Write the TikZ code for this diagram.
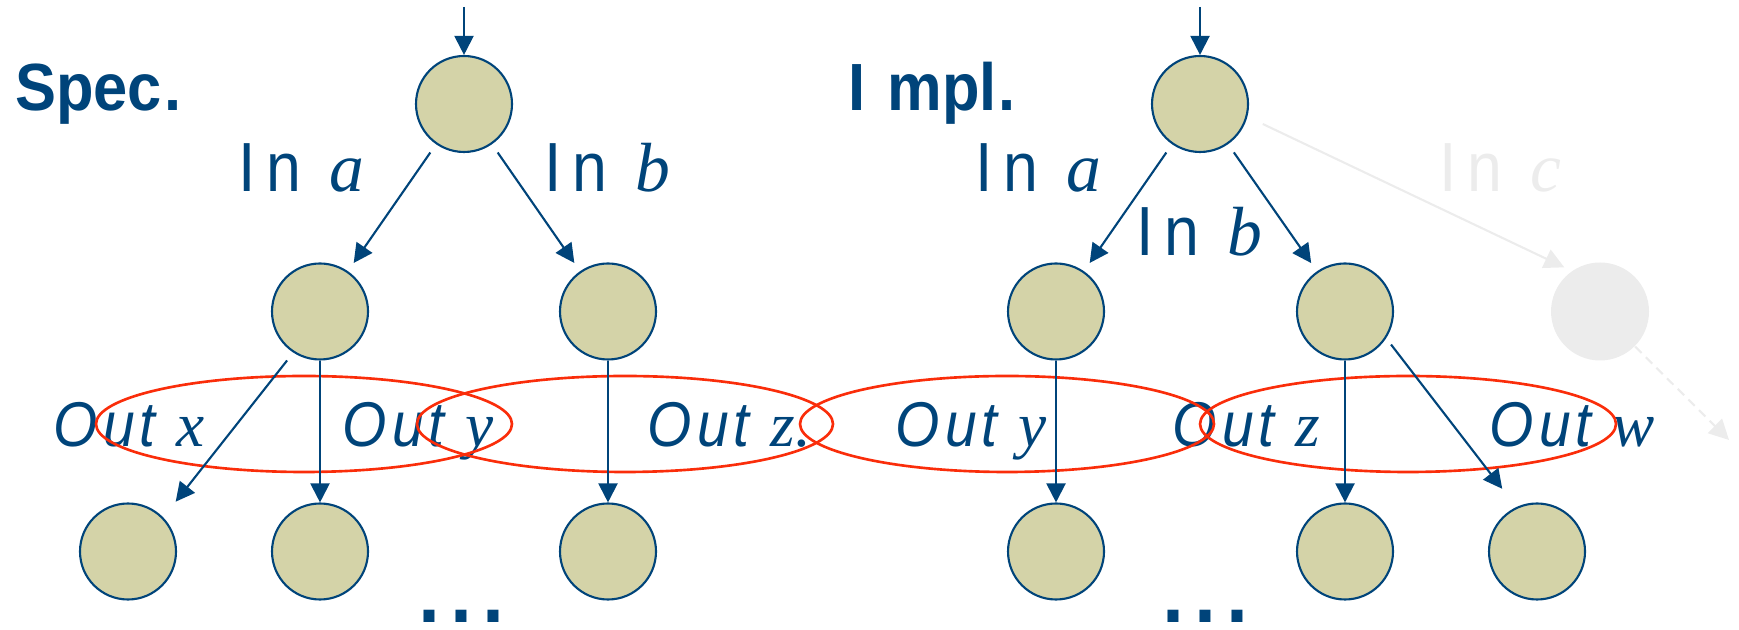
\documentclass[tikz,border=0pt]{standalone}
\usepackage{fontspec}
\setmainfont{Liberation Sans}
\newfontfamily\headsans{Liberation Sans}[FakeStretch=0.92]
\newfontfamily\lblsans{Liberation Sans}[LetterSpace=15, FakeStretch=0.9]
\newfontfamily\outsans{Liberation Sans}[LetterSpace=8, FakeStretch=0.9]
\newfontfamily\lbltimes{Liberation Serif}
\usepackage{tikz}
\usetikzlibrary{
	arrows.meta
}
\usepackage{xcolor}
\definecolor{nodeblue}{RGB}{0,68,122}
\definecolor{nodefill}{RGB}{212,211,168}
\definecolor{setred}{RGB}{250,45,10}
\definecolor{ghostgrey}{RGB}{236,236,236}

\begin{document}
\begin{tikzpicture}[
		state/.style={circle, draw=nodeblue, fill=nodefill, line width=0.6pt, minimum size=0.96cm, inner sep=0pt},
		ghost/.style={circle, fill=ghostgrey, minimum size=0.98cm, inner sep=0pt},
		arr/.style={-{Triangle[length=0.19cm,width=0.19cm]}, draw=nodeblue, line width=0.6pt},
		ghostarr/.style={-{Triangle[length=0.2cm,width=0.2cm]}, draw=ghostgrey, line width=0.6pt},
		outset/.style={draw=setred, line width=0.75pt},
		title/.style={anchor=base west, inner sep=0pt, text=nodeblue, font=\fontsize{19}{21}\selectfont\headsans\bfseries},
		inlabel/.style={anchor=base west, inner sep=0pt, text=nodeblue, font=\fontsize{19.8}{21}\selectfont\lblsans},
		outlabel/.style={anchor=base west, inner sep=0pt, text=nodeblue, font=\fontsize{18}{20}\selectfont\outsans\itshape},
		more/.style={anchor=base west, inner sep=0pt, text depth=0pt, text=nodeblue, font=\fontsize{32.7}{34}\selectfont}
	]
	\useasboundingbox (0,0) rectangle (17.39,6.30);
	
	% Titles
	\node[title] (spectitle) at (0.145,5.19) {Spec\kern0.02cm.};
	\node[title] (impltitle) at (8.48,5.19) {I\kern0.22cm mpl\kern0.01cm.};
	
	% Spec tree
	\node[state] (specroot) at (4.64,5.26) {};
	\node[state] (speca) at (3.20,3.185) {};
	\node[state] (specb) at (6.08,3.185) {};
	\node[state] (specx) at (1.28,0.785) {};
	\node[state] (specy) at (3.20,0.785) {};
	\node[state] (specz) at (6.08,0.785) {};
	\node[more] (specmore) at (4.125,0.07) {...};
	
	% Impl tree
	\node[state] (implroot) at (12.00,5.26) {};
	\node[state] (impla) at (10.56,3.185) {};
	\node[state] (implb) at (13.45,3.185) {};
	\node[ghost] (implc) at (16.00,3.185) {};
	\node[state] (imply) at (10.56,0.785) {};
	\node[state] (implz) at (13.45,0.785) {};
	\node[state] (implw) at (15.37,0.785) {};
	\node[more] (implmore) at (11.565,0.07) {...};
	
	% Input labels
	\node[inlabel] (specina) at (2.38,4.38) {In {\lbltimes\itshape a}};
	\node[inlabel] (specinb) at (5.44,4.38) {In {\lbltimes\itshape b}};
	\node[inlabel] (implina) at (9.75,4.38) {In {\lbltimes\itshape a}};
	\node[inlabel] (implinb) at (11.36,3.74) {In {\lbltimes\itshape b}};
	\node[inlabel, text=ghostgrey] (implinc) at (14.39,4.38) {In {\lbltimes\itshape c}};
	
	% Output labels
	\node[outlabel] (specoutx) at (0.53,1.83) {Out {\lbltimes x}};
	\node[outlabel] (specouty) at (3.42,1.83) {Out {\lbltimes y}};
	\node[outlabel] (specoutz) at (6.47,1.83) {Out {\lbltimes z.}};
	\node[outlabel] (implouty) at (8.95,1.83) {Out {\lbltimes y}};
	\node[outlabel] (imploutz) at (11.72,1.83) {Out {\lbltimes z}};
	\node[outlabel] (imploutw) at (14.89,1.83) {Out {\lbltimes w}};
	
	% Output sets
	\draw[outset] (3.04,2.06) ellipse (2.08 and 0.48);
	\draw[outset] (6.25,2.06) ellipse (2.08 and 0.48);
	\draw[outset] (10.07,2.06) ellipse (2.07 and 0.48);
	\draw[outset] (14.08,2.06) ellipse (2.08 and 0.48);
	
	% Spec arrows
	\coordinate (specin) at (4.64,6.23);
	\draw[arr] (specin) -- (specroot);
	\draw[arr, shorten <=0.1cm, shorten >=0.1cm] (specroot) -- (speca);
	\draw[arr, shorten <=0.1cm, shorten >=0.1cm] (specroot) -- (specb);
	\draw[arr, shorten <=0.1cm, shorten >=0.2cm] (speca.-123) -- (specx.44);
	\draw[arr] (speca) -- (specy);
	\draw[arr] (specb) -- (specz);
	
	% Impl arrows
	\coordinate (implin) at (12.00,6.23);
	\draw[arr] (implin) -- (implroot);
	\draw[arr, shorten <=0.1cm, shorten >=0.1cm] (implroot) -- (impla);
	\draw[arr, shorten <=0.1cm, shorten >=0.1cm] (implroot) -- (implb);
	\draw[ghostarr, shorten <=0.17cm, shorten >=0.08cm] (implroot.-15) -- (implc.125);
	\draw[arr] (impla) -- (imply);
	\draw[arr] (implb) -- (implz);
	\draw[arr, shorten <=0.08cm, shorten >=0.23cm] (implb.-33) -- (implw.115);
	\coordinate (implcout) at (17.29,1.90);
	\draw[ghostarr, dash pattern=on 0.09cm off 0.06cm] (implc.-45) -- (implcout);
	
\end{tikzpicture}
\end{document}
